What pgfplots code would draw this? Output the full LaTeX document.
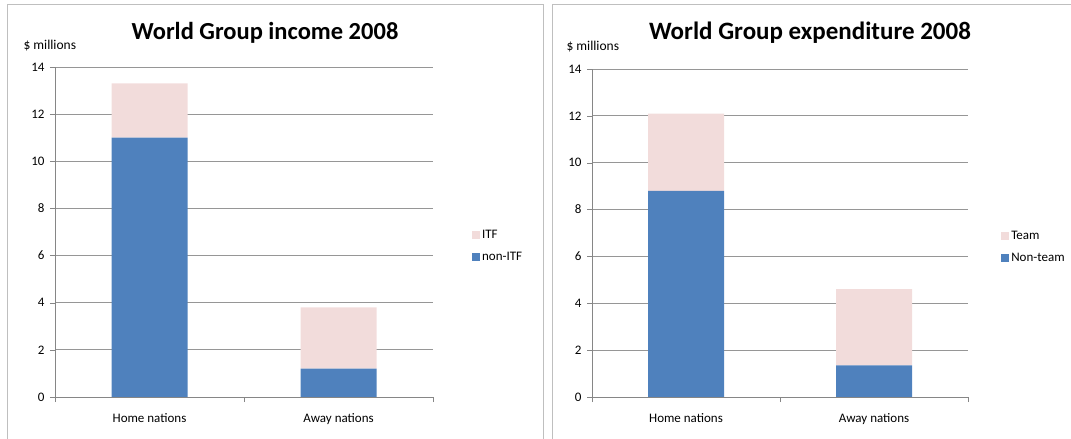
\documentclass[border=0pt]{standalone}
\usepackage{pgfplots}
\pgfplotsset{compat=1.18}
\usepackage{fontspec}
\setmainfont{Carlito}
\definecolor{barblue}{HTML}{4F81BD}
\definecolor{barpink}{HTML}{F2DCDB}
\definecolor{gridgray}{HTML}{969696}
\definecolor{axisgray}{HTML}{868686}
\definecolor{framegray}{HTML}{BFBFBF}
\pgfplotsset{
  panel/.style={
    scale only axis,
    ybar stacked,
    bar width=76pt,
    xmin=-0.5, xmax=1.5,
    ymin=0, ymax=14,
    ytick={0,2,...,14},
    xtick={0,1},
    xticklabels={Home nations, Away nations},
    minor xtick={-0.5,0.5,1.5},
    major x tick style={draw=none},
    minor x tick style={draw=axisgray},
    minor tick length=5pt,
    major tick length=5pt,
    tick align=outside,
    axis lines*=left,
    axis line style={draw=axisgray, line width=0.9pt},
    y tick style={draw=axisgray},
    ymajorgrids,
    grid style={draw=gridgray, line width=0.8pt},
    /pgf/number format/assume math mode=true,
    tick label style={font=\fontsize{13}{15}\selectfont},
    xticklabel style={yshift=-8pt},
    yticklabel style={xshift=-2pt},
    legend style={draw=none, fill=none, font=\fontsize{13}{15}\selectfont,
      anchor=west, row sep=8pt, cells={anchor=west}},
    reverse legend,
    legend image code/.code={\fill[##1] (0pt,-4pt) rectangle (8pt,4pt);},
  }
}
\begin{document}
\begin{tikzpicture}[x=1pt,y=1pt]
\useasboundingbox (0,0) rectangle (1071,439);
% panel frames
\draw[framegray, line width=1pt] (7,-10) -- (7,434) -- (543,434) -- (543,-10);
\draw[framegray, line width=1pt] (552,-10) -- (552,434) -- (1080,434);

\begin{axis}[panel, width=378pt, height=330pt, at={(55pt,42pt)}, anchor=south west,
  legend style={at={(1.095,0.458)}}]
\addplot[fill=barblue, draw=none] coordinates {(0,11.0) (1,1.2)};
\addlegendentry{non-ITF}
\addplot[fill=barpink, draw=none] coordinates {(0,2.3) (1,2.6)};
\addlegendentry{ITF}
\end{axis}
\node[font=\bfseries\fontsize{24.5}{30}\selectfont] at (265,406) {World Group income 2008};
\node[font=\fontsize{13.5}{16}\selectfont, anchor=west] at (20,393) {\$ millions};

\begin{axis}[panel, width=376pt, height=328pt, at={(592pt,42pt)}, anchor=south west,
  legend style={at={(1.08,0.458)}}]
\addplot[fill=barblue, draw=none] coordinates {(0,8.8) (1,1.35)};
\addlegendentry{Non-team}
\addplot[fill=barpink, draw=none] coordinates {(0,3.3) (1,3.25)};
\addlegendentry{Team}
\end{axis}
\node[font=\bfseries\fontsize{25}{30}\selectfont] at (810,406) {World Group expenditure 2008};
\node[font=\fontsize{13.5}{16}\selectfont, anchor=west] at (563,392) {\$ millions};
\end{tikzpicture}
\end{document}
